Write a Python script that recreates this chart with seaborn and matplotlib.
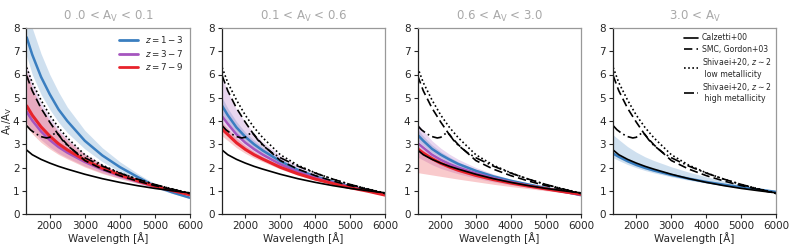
import numpy as np
import matplotlib
matplotlib.use('Agg')
import matplotlib.pyplot as plt
import seaborn as sns
from matplotlib.lines import Line2D

# wavelength grid [A]
wave = [1340, 1500, 1750, 2000, 2250, 2500, 3000, 3500, 4000, 4500, 5000, 5500, 6000]

# reference attenuation curves
calzetti = [2.75, 2.55, 2.35, 2.19, 2.05, 1.93, 1.71, 1.52, 1.36, 1.22, 1.10, 1.00, 0.91]
smc = [5.95, 5.3, 4.55, 3.95, 3.4, 2.98, 2.3, 1.93, 1.65, 1.42, 1.22, 1.05, 0.88]
shiv_low = [6.3, 5.65, 4.9, 4.25, 3.72, 3.28, 2.55, 2.1, 1.77, 1.5, 1.27, 1.08, 0.90]
wave_bump = [1340, 1450, 1600, 1750, 1900, 2000, 2100, 2175, 2250, 2350, 2500, 2750,
             3000, 3500, 4000, 4500, 5000, 5500, 6000]
shiv_high = [3.8, 3.62, 3.45, 3.33, 3.27, 3.3, 3.42, 3.5, 3.42, 3.2, 2.95, 2.65,
             2.42, 2.06, 1.76, 1.5, 1.27, 1.07, 0.88]

titles = ['0 .0 < A$_\\mathregular{V}$ < 0.1', '0.1 < A$_\\mathregular{V}$ < 0.6',
          '0.6 < A$_\\mathregular{V}$ < 3.0', '3.0 < A$_\\mathregular{V}$']
z_labels = ['$z = 1-3$', '$z = 3-7$', '$z = 7-9$']

# panel 1: 0.0 < Av < 0.1
p1_blue = [7.6, 6.85, 5.9, 5.15, 4.5, 4.0, 3.15, 2.52, 2.02, 1.6, 1.2, 0.93, 0.70]
p1_blue_hi = [9.5, 8.0, 6.9, 6.0, 5.25, 4.6, 3.6, 2.85, 2.25, 1.75, 1.3, 0.98, 0.74]
p1_blue_lo = [6.8, 6.0, 5.15, 4.5, 3.95, 3.5, 2.8, 2.25, 1.82, 1.45, 1.12, 0.88, 0.67]
p1_purple = [4.4, 4.02, 3.55, 3.18, 2.88, 2.64, 2.24, 1.91, 1.64, 1.4, 1.18, 1.0, 0.84]
p1_purple_hi = [6.4, 5.65, 4.8, 4.15, 3.65, 3.25, 2.6, 2.14, 1.79, 1.5, 1.25, 1.04, 0.88]
p1_purple_lo = [3.9, 3.6, 3.2, 2.88, 2.62, 2.42, 2.06, 1.77, 1.54, 1.33, 1.13, 0.98, 0.83]
p1_red = [4.65, 4.25, 3.75, 3.35, 3.02, 2.76, 2.32, 1.97, 1.68, 1.43, 1.2, 1.01, 0.83]
p1_red_hi = [6.1, 5.4, 4.6, 4.0, 3.55, 3.18, 2.56, 2.12, 1.77, 1.48, 1.24, 1.04, 0.86]
p1_red_lo = [3.75, 3.45, 3.08, 2.8, 2.56, 2.37, 2.02, 1.74, 1.52, 1.32, 1.12, 0.97, 0.81]

# panel 2: 0.1 < Av < 0.6
p2_blue = [4.65, 4.25, 3.72, 3.32, 3.0, 2.73, 2.27, 1.9, 1.62, 1.39, 1.19, 1.02, 0.84]
p2_blue_hi = [5.0, 4.55, 3.97, 3.52, 3.17, 2.87, 2.37, 1.97, 1.67, 1.43, 1.22, 1.04, 0.86]
p2_blue_lo = [4.3, 3.95, 3.47, 3.12, 2.83, 2.59, 2.17, 1.83, 1.57, 1.35, 1.16, 1.0, 0.82]
p2_purple = [4.2, 3.88, 3.42, 3.07, 2.79, 2.55, 2.14, 1.82, 1.56, 1.35, 1.16, 1.0, 0.83]
p2_purple_hi = [5.9, 5.25, 4.5, 3.95, 3.48, 3.1, 2.5, 2.07, 1.73, 1.46, 1.23, 1.04, 0.87]
p2_purple_lo = [3.6, 3.38, 3.02, 2.74, 2.52, 2.33, 1.98, 1.7, 1.48, 1.29, 1.11, 0.96, 0.8]
p2_red = [3.65, 3.42, 3.06, 2.78, 2.55, 2.36, 2.01, 1.73, 1.5, 1.31, 1.13, 0.98, 0.81]
p2_red_hi = [3.95, 3.68, 3.27, 2.95, 2.69, 2.47, 2.09, 1.79, 1.54, 1.34, 1.15, 0.99, 0.82]
p2_red_lo = [3.35, 3.16, 2.85, 2.61, 2.41, 2.25, 1.93, 1.67, 1.46, 1.28, 1.11, 0.96, 0.79]

# panel 3: 0.6 < Av < 3.0
p3_blue = [3.4, 3.15, 2.8, 2.55, 2.34, 2.15, 1.86, 1.62, 1.43, 1.27, 1.12, 0.97, 0.81]
p3_blue_hi = [3.65, 3.35, 2.97, 2.68, 2.45, 2.24, 1.92, 1.66, 1.46, 1.29, 1.13, 0.98, 0.82]
p3_blue_lo = [3.15, 2.95, 2.64, 2.42, 2.23, 2.06, 1.8, 1.58, 1.4, 1.25, 1.1, 0.96, 0.8]
p3_purple = [3.05, 2.85, 2.55, 2.33, 2.15, 2.0, 1.75, 1.54, 1.37, 1.22, 1.09, 0.96, 0.83]
p3_purple_hi = [3.9, 3.58, 3.15, 2.83, 2.57, 2.35, 2.0, 1.72, 1.5, 1.32, 1.16, 1.0, 0.85]
p3_purple_lo = [2.45, 2.32, 2.12, 1.96, 1.84, 1.73, 1.54, 1.38, 1.25, 1.14, 1.03, 0.93, 0.82]
p3_red = [2.8, 2.62, 2.38, 2.18, 2.02, 1.88, 1.66, 1.48, 1.33, 1.2, 1.08, 0.96, 0.85]
p3_red_hi = [2.95, 2.76, 2.5, 2.29, 2.12, 1.97, 1.73, 1.53, 1.37, 1.23, 1.1, 0.98, 0.86]
p3_red_lo = [1.78, 1.74, 1.68, 1.62, 1.56, 1.5, 1.39, 1.28, 1.18, 1.09, 1.0, 0.92, 0.84]

# panel 4: 3.0 < Av (only z = 1-3)
p4_blue = [2.6, 2.46, 2.27, 2.11, 1.98, 1.87, 1.68, 1.52, 1.38, 1.26, 1.15, 1.05, 0.95]
p4_blue_hi = [3.4, 3.2, 2.9, 2.66, 2.46, 2.3, 2.03, 1.8, 1.6, 1.42, 1.26, 1.1, 0.97]
p4_blue_lo = [2.42, 2.3, 2.13, 1.99, 1.87, 1.77, 1.6, 1.45, 1.33, 1.22, 1.12, 1.02, 0.93]

colors = ['#3a7ec0', '#a555be', '#e8222b']

panels = [
    [(p1_blue, p1_blue_lo, p1_blue_hi), (p1_purple, p1_purple_lo, p1_purple_hi), (p1_red, p1_red_lo, p1_red_hi)],
    [(p2_blue, p2_blue_lo, p2_blue_hi), (p2_purple, p2_purple_lo, p2_purple_hi), (p2_red, p2_red_lo, p2_red_hi)],
    [(p3_blue, p3_blue_lo, p3_blue_hi), (p3_purple, p3_purple_lo, p3_purple_hi), (p3_red, p3_red_lo, p3_red_hi)],
    [(p4_blue, p4_blue_lo, p4_blue_hi)],
]

sns.set_style('ticks')
plt.rcParams['font.family'] = ['DejaVu Sans']

fig, axes = plt.subplots(1, 4, figsize=(7.93, 2.5), dpi=100)
fig.subplots_adjust(left=0.0334, right=0.979, bottom=0.144, top=0.888, wspace=0.197)

dash = (0, (5, 2.5))
dot = (0, (1, 1.5))
dashdot = (0, (6, 2, 1, 2))

for i, ax in enumerate(axes):
    # shaded ranges
    for (mid, lo, hi), c in zip(panels[i], colors):
        ax.fill_between(wave, lo, hi, color=c, alpha=0.24, lw=0)
    # median curves
    for (mid, lo, hi), c in zip(panels[i], colors):
        sns.lineplot(x=wave, y=mid, color=c, lw=1.8 if c != colors[2] else 2.2, ax=ax)

    # reference curves
    sns.lineplot(x=wave, y=calzetti, color='black', lw=1.2, ax=ax)
    sns.lineplot(x=wave, y=smc, color='black', lw=1.2, ax=ax, linestyle=dash)
    sns.lineplot(x=wave, y=shiv_low, color='black', lw=1.2, ax=ax, linestyle=dot)
    sns.lineplot(x=wave_bump, y=shiv_high, color='black', lw=1.2, ax=ax, linestyle=dashdot)

    ax.set_xlim(1335, 6000)
    ax.set_ylim(0, 8)
    ax.set_xticks([2000, 3000, 4000, 5000, 6000])
    ax.set_yticks(range(9))
    ax.tick_params(labelsize=7.5, length=3, width=0.8, pad=2)
    ax.set_xlabel('Wavelength [Å]', fontsize=7.5, labelpad=1)
    ax.set_title(titles[i], fontsize=8.5, color='#a8a8a8', pad=6)
    for s in ['left', 'bottom']:
        ax.spines[s].set_color('#222222')
        ax.spines[s].set_linewidth(0.9)
    for s in ['top', 'right']:
        ax.spines[s].set_color('#999999')
        ax.spines[s].set_linewidth(0.9)

axes[0].set_ylabel('A$_\\lambda$/A$_\\mathregular{V}$', fontsize=7.2)
axes[0].yaxis.label.set_va('center')
axes[0].yaxis.set_label_coords(-0.118, 0.5)

z_handles = [Line2D([], [], color=c, lw=2) for c in colors]
axes[0].legend(z_handles, z_labels, loc='upper right', fontsize=6.3, frameon=False,
               handlelength=2.2, borderaxespad=0.3, labelspacing=0.3)

ref_handles = [Line2D([], [], color='black', lw=1.2),
               Line2D([], [], color='black', lw=1.2, linestyle=dash),
               Line2D([], [], color='black', lw=1.2, linestyle=dot),
               Line2D([], [], color='black', lw=1.2, linestyle=dashdot)]
ref_labels = ['Calzetti+00', 'SMC, Gordon+03',
              'Shivaei+20, $z\\sim2$\n low metallicity',
              'Shivaei+20, $z\\sim2$\n high metallicity']
axes[3].legend(ref_handles, ref_labels, loc='upper right', fontsize=5.6, frameon=False,
               handlelength=1.8, handletextpad=0.5, borderaxespad=0.3, labelspacing=0.3)

fig.savefig('out.png', dpi=100)
